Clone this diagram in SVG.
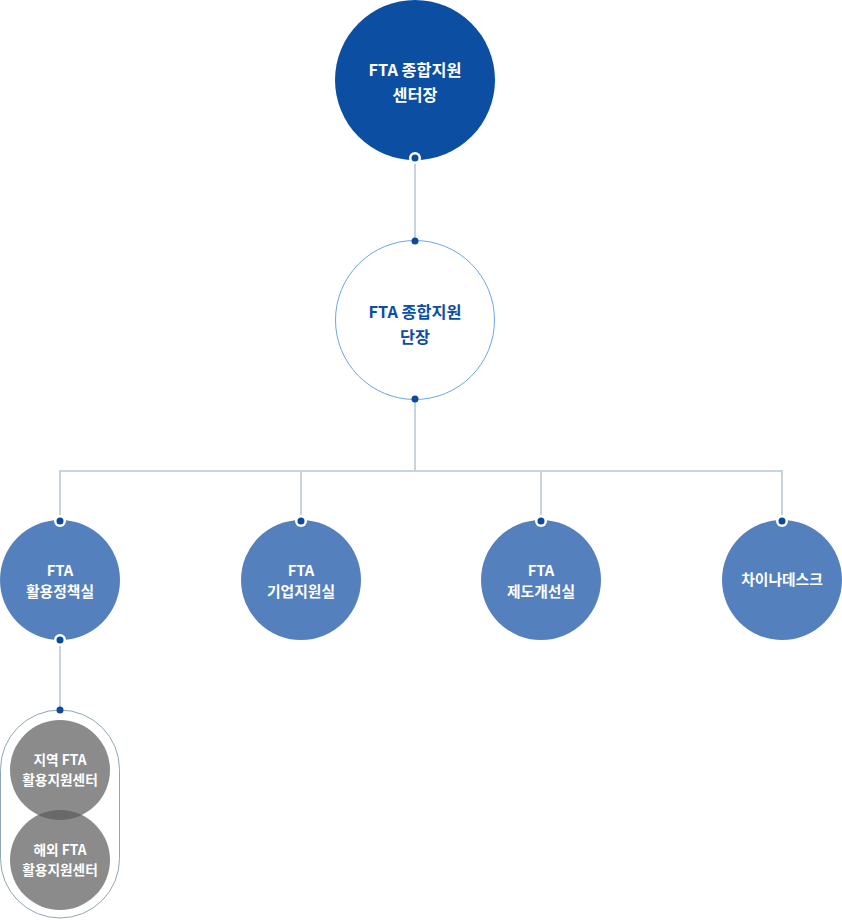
<svg xmlns="http://www.w3.org/2000/svg" width="842" height="920" viewBox="0 0 842 920">
<style>
.ln{stroke:#c7d4dc;stroke-width:2;fill:none}
.dot{fill:#0b4a9c}
.ring{fill:#fff}
.t{font-family:"Noto Sans CJK KR","Noto Sans",sans-serif;font-weight:bold;text-anchor:middle}
.w{fill:#fff}
.sub{fill:#5480bd}
.gr{fill:#5c5c5c;fill-opacity:0.71}
</style>
<rect width="842" height="920" fill="#fff"/>
<g id="connectors">
<path class="ln" d="M415 160V240"/>
<path class="ln" d="M415 400V471"/>
<path class="ln" d="M60 521V471H782V521"/>
<path class="ln" d="M301 471V521"/>
<path class="ln" d="M541 471V521"/>
<path class="ln" d="M60 640V710"/>
</g>
<g id="center-head">
<circle cx="415" cy="80" r="80" fill="#0b4ea2"/>
<circle class="ring" cx="415" cy="158" r="6"/>
<circle class="dot" cx="415" cy="158" r="3.5"/>
<text class="t w" x="415" y="76" font-size="16.3">FTA 종합지원</text>
<text class="t w" x="415" y="101" font-size="16.3">센터장</text>
</g>
<g id="division-head">
<circle cx="415" cy="320" r="79.5" fill="#fff" stroke="#6fa3ef" stroke-width="1"/>
<circle class="dot" cx="415" cy="241" r="3.5"/>
<circle class="dot" cx="415" cy="399" r="3.5"/>
<text class="t" x="415" y="318" font-size="16.3" fill="#0b4ea2">FTA 종합지원</text>
<text class="t" x="415" y="343" font-size="16.3" fill="#0b4ea2">단장</text>
</g>
<g id="policy">
<circle class="sub" cx="60" cy="580" r="60"/>
<circle class="ring" cx="60" cy="521" r="6"/>
<circle class="dot" cx="60" cy="521" r="3.5"/>
<circle class="ring" cx="60" cy="640" r="6"/>
<circle class="dot" cx="60" cy="640" r="3.5"/>
<text class="t w" x="60" y="576" font-size="14.8">FTA</text>
<text class="t w" x="60" y="597" font-size="14.8">활용정책실</text>
</g>
<g id="business">
<circle class="sub" cx="301" cy="580" r="60"/>
<circle class="ring" cx="301" cy="521" r="6"/>
<circle class="dot" cx="301" cy="521" r="3.5"/>
<text class="t w" x="301" y="576" font-size="14.8">FTA</text>
<text class="t w" x="301" y="597" font-size="14.8">기업지원실</text>
</g>
<g id="system">
<circle class="sub" cx="541" cy="580" r="60"/>
<circle class="ring" cx="541" cy="521" r="6"/>
<circle class="dot" cx="541" cy="521" r="3.5"/>
<text class="t w" x="541" y="576" font-size="14.8">FTA</text>
<text class="t w" x="541" y="597" font-size="14.8">제도개선실</text>
</g>
<g id="china">
<circle class="sub" cx="782" cy="580" r="60"/>
<circle class="ring" cx="782" cy="521" r="6"/>
<circle class="dot" cx="782" cy="521" r="3.5"/>
<text class="t w" x="782" y="585" font-size="14.8">차이나데스크</text>
</g>
<g id="centers-group">
<rect x="0.5" y="710" width="119" height="208" rx="59.5" fill="#fff" stroke="#8fa8b3" stroke-width="1"/>
<circle class="dot" cx="60" cy="710" r="3.5"/>
</g>
<g id="regional">
<circle class="gr" cx="60" cy="770" r="50"/>
<text class="t w" x="60" y="765" font-size="13.7">지역 FTA</text>
<text class="t w" x="60" y="785" font-size="13.7">활용지원센터</text>
</g>
<g id="overseas">
<circle class="gr" cx="60" cy="860" r="50"/>
<text class="t w" x="60" y="855" font-size="13.7">해외 FTA</text>
<text class="t w" x="60" y="875" font-size="13.7">활용지원센터</text>
</g>
</svg>
